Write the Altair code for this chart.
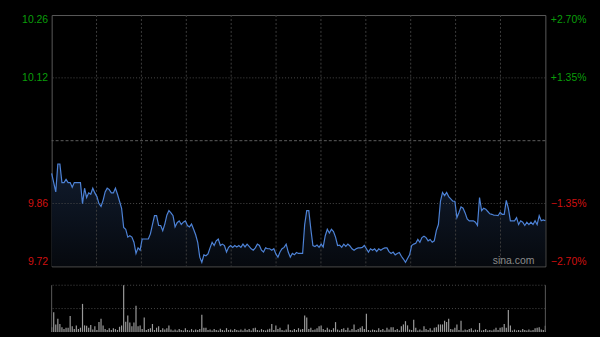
import altair as alt
import pandas as pd

prev_close = 9.99
pct_ticks = [2.70, 1.35, -1.35, -2.70]
grid_pcts = [1.35, 0.0, -1.35]

prices = [
    9.92, 9.90, 9.88, 9.94, 9.94, 9.90, 9.90, 9.907, 9.90, 9.90,
    9.89, 9.90, 9.90, 9.90, 9.90, 9.855, 9.888, 9.868, 9.878, 9.875,
    9.888, 9.878, 9.87, 9.855, 9.849, 9.862, 9.88, 9.888, 9.885, 9.878,
    9.878, 9.888, 9.875, 9.86, 9.845, 9.804, 9.80, 9.783, 9.786, 9.783,
    9.772, 9.748, 9.76, 9.755, 9.779, 9.779, 9.779, 9.779, 9.79, 9.81,
    9.829, 9.829, 9.808, 9.808, 9.797, 9.811, 9.83, 9.84, 9.835, 9.829,
    9.805, 9.814, 9.818, 9.81, 9.815, 9.818, 9.808, 9.805, 9.811, 9.80,
    9.788, 9.772, 9.74, 9.729, 9.745, 9.743, 9.747, 9.76, 9.772, 9.765,
    9.775, 9.779, 9.765, 9.768, 9.765, 9.751, 9.761, 9.765, 9.761, 9.765,
    9.762, 9.765, 9.761, 9.768, 9.762, 9.768, 9.763, 9.758, 9.755, 9.76,
    9.768, 9.765, 9.755, 9.751, 9.76, 9.758, 9.758, 9.755, 9.758, 9.747,
    9.74, 9.751, 9.758, 9.761, 9.768, 9.751, 9.74, 9.748, 9.745, 9.75,
    9.748, 9.748, 9.748, 9.81, 9.84, 9.84, 9.80, 9.765, 9.763, 9.766,
    9.761, 9.768, 9.762, 9.786, 9.80, 9.792, 9.80, 9.795, 9.783, 9.765,
    9.766, 9.761, 9.768, 9.763, 9.768, 9.764, 9.758, 9.755, 9.758, 9.76,
    9.76, 9.761, 9.765, 9.758, 9.751, 9.758, 9.755, 9.758, 9.752, 9.758,
    9.755, 9.758, 9.76, 9.76, 9.752, 9.748, 9.751, 9.745, 9.748, 9.75,
    9.742, 9.736, 9.729, 9.737, 9.745, 9.765, 9.768, 9.77, 9.778, 9.772,
    9.782, 9.785, 9.782, 9.775, 9.778, 9.772, 9.775, 9.797, 9.81, 9.86,
    9.879, 9.872, 9.879, 9.87, 9.865, 9.86, 9.86, 9.825, 9.836, 9.848,
    9.845, 9.835, 9.822, 9.818, 9.818, 9.818, 9.815, 9.808, 9.868, 9.84,
    9.845, 9.843, 9.838, 9.833, 9.832, 9.83, 9.83, 9.829, 9.836, 9.832,
    9.832, 9.862, 9.845, 9.818, 9.818, 9.818, 9.825, 9.81, 9.818, 9.815,
    9.808, 9.815, 9.81, 9.815, 9.81, 9.818, 9.81, 9.829, 9.818, 9.82,
    9.818,
]

volumes = [
    10, 42, 16, 28, 17, 10, 6, 9, 9, 34,
    12, 6, 14, 6, 9, 60, 14, 13, 9, 15,
    5, 12, 4, 21, 28, 14, 6, 4, 8, 4,
    8, 6, 4, 11, 14, 100, 22, 35, 20, 12,
    20, 56, 12, 14, 6, 31, 4, 6, 8, 17,
    4, 9, 12, 4, 8, 5, 8, 14, 5, 3,
    5, 3, 6, 4, 3, 8, 4, 3, 6, 3,
    5, 4, 6, 37, 9, 9, 4, 5, 3, 6,
    4, 3, 7, 4, 3, 8, 4, 5, 3, 6,
    4, 3, 5, 3, 7, 4, 6, 3, 8, 9,
    4, 3, 6, 4, 3, 5, 7, 17, 4, 14,
    6, 9, 4, 3, 5, 16, 4, 3, 6, 4,
    8, 5, 6, 35, 31, 6, 9, 4, 5, 8,
    12, 14, 6, 4, 9, 5, 4, 8, 21, 5,
    3, 6, 8, 4, 9, 3, 6, 16, 4, 6,
    9, 12, 6, 39, 4, 3, 5, 4, 3, 8,
    4, 6, 3, 9, 5, 10, 10, 4, 6, 3,
    12, 16, 23, 14, 5, 4, 26, 9, 3, 5,
    3, 12, 6, 4, 8, 3, 9, 10, 16, 16,
    16, 24, 21, 28, 6, 5, 9, 16, 4, 24,
    3, 5, 4, 6, 8, 3, 5, 4, 19, 3,
    4, 6, 3, 4, 3, 5, 9, 4, 9, 10,
    17, 9, 47, 14, 3, 5, 3, 4, 3, 6,
    4, 3, 5, 3, 4, 8, 9, 10, 5, 4,
    13,
]

n_minutes = len(prices) - 1
n_sections = 11
vgrid = [n_minutes * k / n_sections for k in range(1, n_sections)]

lo = prev_close * (1 + pct_ticks[-1] / 100)
hi = prev_close * (1 + pct_ticks[0] / 100)
price_ticks = [prev_close * (1 + p / 100) for p in pct_ticks]

df = pd.DataFrame({"minute": list(range(len(prices))), "price": prices})
df["pct"] = (df["price"] / prev_close - 1) * 100
vol_df = pd.DataFrame({"minute": list(range(len(volumes))), "vol": volumes})
hgrid_df = pd.DataFrame({"price": [prev_close * (1 + p / 100) for p in grid_pcts],
                         "mid": [p == 0 for p in grid_pcts]})
vgrid_df = pd.DataFrame({"minute": vgrid})

GREEN = "#0a9e0a"
RED = "#d01010"
FONT = "Liberation Sans"

xs = alt.Scale(domain=[0, n_minutes], nice=False, zero=False)
ys = alt.Scale(domain=[lo, hi], nice=False, zero=False)
left_axis = alt.Axis(values=price_ticks, format=".2f", labelFlush=True, ticks=False,
                     domain=False, grid=False, title=None, labelFontSize=10.5,
                     labelFont=FONT, labelPadding=4, orient="left",
                     labelColor={"condition": {"test": "datum.value > 9.99", "value": GREEN},
                                 "value": RED})
right_axis = alt.Axis(values=pct_ticks, orient="right", labelFlush=True, ticks=False,
                      domain=False, grid=False, title=None, labelFontSize=10.5,
                      labelFont=FONT, labelPadding=5,
                      labelExpr="(datum.value > 0 ? '+' : '') + format(datum.value, '.2f') + '%'",
                      labelColor={"condition": {"test": "datum.value > 0", "value": GREEN},
                                  "value": RED})

X = alt.X("minute:Q", scale=xs, axis=None)
Yp = alt.Y("price:Q", scale=ys, axis=left_axis)

area = alt.Chart(df).mark_area(
    color=alt.Gradient(gradient="linear",
                       stops=[alt.GradientStop(color="#111c2e", offset=0),
                              alt.GradientStop(color="#06090e", offset=1)],
                       x1=1, x2=1, y1=0, y2=1)
).encode(x=X, y=Yp, y2=alt.datum(lo))

hgrid = alt.Chart(hgrid_df).mark_rule(strokeWidth=1).encode(
    y=Yp,
    color=alt.condition("datum.mid", alt.value("#5e5e5e"), alt.value("#4a4a4a")),
    strokeDash=alt.condition("datum.mid", alt.value([3, 2]), alt.value([1, 2])),
)
vgrid_rules = alt.Chart(vgrid_df).mark_rule(color="#3c3c3c", strokeDash=[2, 2]).encode(x=X)

line = alt.Chart(df).mark_line(color="#4d82d6", strokeWidth=1.2).encode(x=X, y=Yp)

sina = alt.Chart(df.head(1)).mark_text(
    text="sina.com", align="right", baseline="middle", color="#8a8a8a",
    fontSize=10.5, font=FONT
).encode(x=alt.value(486), y=alt.value(248))

price_layers = alt.layer(area, vgrid_rules, hgrid, line, sina)

right_layer = alt.Chart(df).mark_line(opacity=0).encode(
    x=X, y=alt.Y("pct:Q", scale=alt.Scale(domain=[pct_ticks[-1], pct_ticks[0]], nice=False, zero=False),
                 axis=right_axis))

main = alt.layer(price_layers, right_layer).resolve_scale(
    y="independent").properties(width=497, height=253)

vys = alt.Scale(domain=[0, 100], nice=False)
VY = alt.Y("vol:Q", scale=vys, axis=None)
bars = alt.Chart(vol_df).mark_rule(color="#9a9a9a", strokeWidth=1.2).encode(
    x=X, y=VY, y2=alt.datum(0))
vol_grid = alt.Chart(pd.DataFrame({"vol": [100, 50]})).mark_rule(
    color="#4a4a4a", strokeDash=[1, 2]).encode(y=VY)
vol_border = alt.Chart(pd.DataFrame({"minute": [0, n_minutes]})).mark_rule(
    color="#5a5a5a").encode(x=X)
volume = alt.layer(vol_grid, bars, vol_border).properties(
    width=497, height=47, view=alt.ViewBackground(stroke=None))

chart = alt.vconcat(main, volume, spacing=19, bounds="flush").properties(
    background="#000000",
    padding={"left": 21, "top": 13, "right": 13, "bottom": 5},
).configure_view(stroke="#5a5a5a")

chart.save("out.html", embed_options={"renderer": "svg", "actions": False})
